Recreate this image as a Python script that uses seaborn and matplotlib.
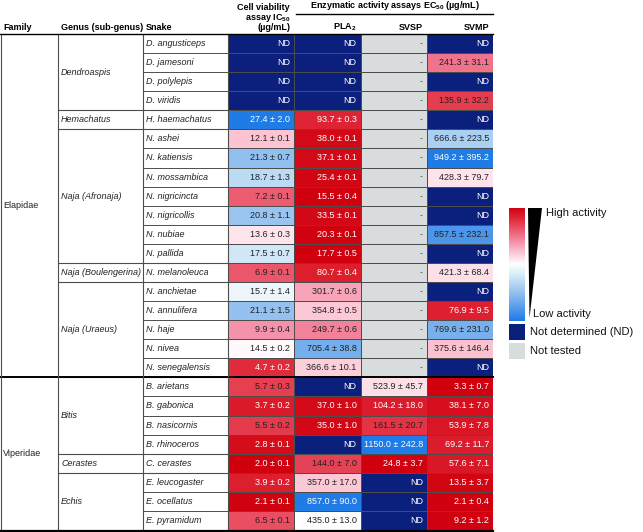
import numpy as np
import pandas as pd
import matplotlib
matplotlib.use("Agg")
import matplotlib.pyplot as plt
import seaborn as sns
from matplotlib.colors import LinearSegmentedColormap, ListedColormap
from matplotlib.patches import Polygon, Rectangle

#========= Data ===========
ND, NT = "ND", "-"

families = ["Elapidae", "Viperidae"]
family_sizes = [18, 8]

genera = ["Dendroaspis", "Hemachatus", "Naja (Afronaja)", "Naja (Boulengerina)",
          "Naja (Uraeus)", "Bitis", "Cerastes", "Echis"]
genus_sizes = [4, 1, 7, 1, 5, 4, 1, 3]

snakes = ["D. angusticeps", "D. jamesoni", "D. polylepis", "D. viridis",
          "H. haemachatus",
          "N. ashei", "N. katiensis", "N. mossambica", "N. nigricincta",
          "N. nigricollis", "N. nubiae", "N. pallida",
          "N. melanoleuca",
          "N. anchietae", "N. annulifera", "N. haje", "N. nivea", "N. senegalensis",
          "B. arietans", "B. gabonica", "B. nasicornis", "B. rhinoceros",
          "C. cerastes",
          "E. leucogaster", "E. ocellatus", "E. pyramidum"]

cell_mean = [ND, ND, ND, ND, 27.4, 12.1, 21.3, 18.7, 7.2, 20.8, 13.6, 17.5, 6.9,
             15.7, 21.1, 9.9, 14.5, 4.7, 5.7, 3.7, 5.5, 2.8, 2.0, 3.9, 2.1, 6.5]
cell_sd = [None, None, None, None, 2.0, 0.1, 0.7, 1.3, 0.1, 1.1, 0.3, 0.7, 0.1,
           1.4, 1.5, 0.4, 0.2, 0.2, 0.3, 0.2, 0.2, 0.1, 0.1, 0.2, 0.1, 0.1]

pla2_mean = [ND, ND, ND, ND, 93.7, 38.0, 37.1, 25.4, 15.5, 33.5, 20.3, 17.7, 80.7,
             301.7, 354.8, 249.7, 705.4, 366.6, ND, 37.0, 35.0, ND, 144.0, 357.0, 857.0, 435.0]
pla2_sd = [None, None, None, None, 0.3, 0.1, 0.1, 0.1, 0.4, 0.1, 0.1, 0.5, 0.4,
           0.6, 0.5, 0.6, 38.8, 10.1, None, 1.0, 1.0, None, 7.0, 17.0, 90.0, 13.0]

svsp_mean = [NT] * 18 + [523.9, 104.2, 161.5, 1150.0, 24.8, ND, ND, ND]
svsp_sd = [None] * 18 + [45.7, 18.0, 20.7, 242.8, 3.7, None, None, None]

svmp_mean = [ND, 241.3, ND, 135.9, ND, 666.6, 949.2, 428.3, ND, ND, 857.5, ND, 421.3,
             ND, 76.9, 769.6, 375.6, ND, 3.3, 38.1, 53.9, 69.2, 57.6, 13.5, 2.1, 9.2]
svmp_sd = [None, 31.1, None, 32.2, None, 223.5, 395.2, 79.7, None, None, 232.1, None, 68.4,
           None, 9.5, 231.0, 146.4, None, 0.7, 7.0, 7.8, 11.7, 7.1, 3.7, 0.4, 1.2]

assays = ["cell", "PLA2", "SVSP", "SVMP"]
means = [cell_mean, pla2_mean, svsp_mean, svmp_mean]
sds = [cell_sd, pla2_sd, svsp_sd, svmp_sd]

#========= Tables for the heatmap ===========
n = len(snakes)
score = np.full((n, 4), np.nan)     # 1 = high activity (low EC50), 0 = low
status = np.full((n, 4), np.nan)    # 0 = ND, 1 = not tested
labels = np.empty((n, 4), dtype=object)
for j, (m, s) in enumerate(zip(means, sds)):
    nums = [v for v in m if not isinstance(v, str)]
    lo, hi = min(nums), max(nums)
    for i, v in enumerate(m):
        if v == ND:
            status[i, j] = 0
            labels[i, j] = "ND"
        elif v == NT:
            status[i, j] = 1
            labels[i, j] = "-"
        else:
            score[i, j] = (hi - v) / (hi - lo)
            labels[i, j] = f"{v:.1f} \u00b1 {s[i]:.1f}"

score_df = pd.DataFrame(score, index=snakes, columns=assays)
status_df = pd.DataFrame(status, index=snakes, columns=assays)

#========= Style ===========
plt.rcParams["font.family"] = ["Liberation Sans", "DejaVu Sans"]
plt.rcParams["mathtext.fontset"] = "custom"
plt.rcParams["mathtext.rm"] = "Liberation Sans"
plt.rcParams["mathtext.bf"] = "Liberation Sans:bold"

nd_col = "#0b1f7c"
nt_col = "#d9dcdc"
grid_col = "#4d4d4d"
act_cmap = LinearSegmentedColormap.from_list(
    "activity",
    [(0.0, "#1f7be6"), (0.25, "#95c2f0"), (0.42, "#dcf0f8"), (0.5, "#ffffff"),
     (0.6, "#fcc6d4"), (0.7, "#f48ca6"), (0.8, "#ec5a6e"), (0.9, "#e02838"),
     (1.0, "#d0000e")])
fs = 6.5

W, H = 643, 532
fig = plt.figure(figsize=(W / 100, H / 100), dpi=100)

top, rh = 34.0, (530.0 - 34.0) / n
x_cols = [228, 294.3, 360.6, 426.9, 493.2]

ax = fig.add_axes([228 / W, 1 - 530 / H, 265.2 / W, 496 / H])
sns.heatmap(status_df, mask=status_df.isna(), cmap=ListedColormap([nd_col, nt_col]),
            vmin=0, vmax=1, cbar=False, annot=np.where(status_df.isna(), "", labels),
            fmt="", annot_kws={"fontsize": fs}, linewidths=0.7, linecolor=grid_col, ax=ax)
sns.heatmap(score_df, mask=score_df.isna(), cmap=act_cmap, vmin=0, vmax=1, cbar=False,
            annot=np.where(score_df.isna(), "", labels), fmt="",
            annot_kws={"fontsize": fs}, linewidths=0.7, linecolor=grid_col, ax=ax)
ax.set_xticks([])
ax.set_yticks([])
ax.set_xlabel("")
ax.set_ylabel("")

pad = 4 / 66.3
for t in ax.texts:
    x, y = t.get_position()
    c, r = int(x), int(y)
    txt = t.get_text()
    t.set_ha("right")
    t.set_position((c + 1 - pad, y))
    if txt == "ND":
        t.set_color("white")
    elif txt == "-":
        t.set_color("#555555")
    else:
        v = score[r, c]
        t.set_color("white" if (v > 0.88 or v < 0.05) else "#222222")

#========= Table frame, labels and legend (pixel coords) ===========
lay = fig.add_axes([0, 0, 1, 1])
lay.set_xlim(0, W)
lay.set_ylim(H, 0)
lay.axis("off")

def ypos(k):
    return top + k * rh

# headers
hb = dict(fontsize=fs, fontweight="bold", va="center")
ug = "(\u00b5g/mL)"
lay.text(3, 27, "Family", ha="left", **hb)
lay.text(61, 27, "Genus (sub-genus)", ha="left", **hb)
lay.text(146, 27, "Snake", ha="left", **hb)
lay.text(290, 7, "Cell viability", ha="right", **hb)
lay.text(290, 18.5, "assay IC$_{\\mathbf{50}}$", ha="right", **hb)
lay.text(290, 28, ug, ha="right", **hb)
lay.text(395, 6, "Enzymatic activity assays EC$_{\\mathbf{50}}$ " + ug, ha="center", **hb)
lay.plot([296, 493], [14, 14], color="black", lw=1)
lay.text(x_cols[2] - 4, 27, "PLA$_{\\mathbf{2}}$", ha="right", **hb)
lay.text(x_cols[3] - 4, 27, "SVSP", ha="right", **hb)
lay.text(x_cols[4] - 4, 27, "SVMP", ha="right", **hb)

# snake rows
for i, s in enumerate(snakes):
    lay.text(146, ypos(i + 0.5), s, fontsize=fs, style="italic", va="center", color="#222222")
    if i > 0:
        lay.plot([143, 228], [ypos(i), ypos(i)], color=grid_col, lw=0.7)

# genus groups
k = 0
for g, sz in zip(genera, genus_sizes):
    lay.text(61, ypos(k + sz / 2), g, fontsize=fs, style="italic", va="center", color="#222222")
    if k > 0:
        lay.plot([58, 228], [ypos(k), ypos(k)], color=grid_col, lw=0.8)
    k += sz

# family groups
k = 0
for f, sz in zip(families, family_sizes):
    lay.text(3, ypos(k + sz / 2), f, fontsize=fs, va="center", color="#222222")
    if k > 0:
        lay.plot([0, 493], [ypos(k), ypos(k)], color="black", lw=1.4)
    k += sz

for xv in [0.6, 58, 143, 228]:
    lay.plot([xv, xv], [top, 530], color=grid_col, lw=0.8)
lay.plot([0, 493], [top, top], color="black", lw=1.0)
lay.plot([0, 493], [530.5, 530.5], color="black", lw=1.6)

# legend
cax = fig.add_axes([509 / W, 1 - 321 / H, 16 / W, 113 / H])
cax.imshow(np.linspace(1, 0, 256)[:, None], aspect="auto", cmap=act_cmap)
cax.axis("off")
lay.add_patch(Polygon([(528, 208), (542, 208), (529.5, 318)], closed=True,
                      facecolor="black", edgecolor="none"))
lay.add_patch(Rectangle((509, 324), 16, 16, facecolor=nd_col, edgecolor="none"))
lay.add_patch(Rectangle((509, 343), 16, 16, facecolor=nt_col, edgecolor="none"))
lf = dict(fontsize=8, va="center", color="#111111")
lay.text(546, 213, "High activity", **lf)
lay.text(533, 314, "Low activity", **lf)
lay.text(530, 332, "Not determined (ND)", **lf)
lay.text(530, 351, "Not tested", **lf)

fig.savefig("out.png", dpi=100)
